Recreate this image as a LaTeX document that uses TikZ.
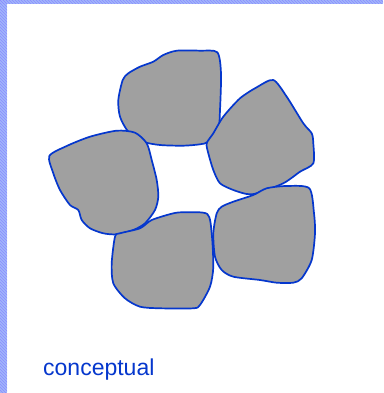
\documentclass[tikz,border=0pt]{standalone}
\usepackage{fontspec}
\setmainfont{Liberation Sans}
\usetikzlibrary{patterns}
\definecolor{rockblue}{RGB}{5,55,205}
\definecolor{rockgray}{RGB}{160,160,160}
\definecolor{edgeblue}{RGB}{160,182,250}
\begin{document}
\begin{tikzpicture}[x=1pt,y=-1pt,
  rock/.style={draw=rockblue,line width=1.7pt,fill=rockgray,line join=round,tension=0.45},
  lab/.style={font=\fontsize{23}{25}\selectfont,text=rockblue,anchor=base west,inner sep=0pt}]
\useasboundingbox (0,0) rectangle (383,393);
% frame
\fill[white] (0,0) rectangle (383,393);
\fill[edgeblue] (0,0) rectangle (383,4);
\fill[edgeblue] (0,0) rectangle (7,393);
\fill[pattern=north west lines,pattern color=blue!45] (0,0) rectangle (383,4);
\fill[pattern=north west lines,pattern color=blue!45] (0,0) rectangle (7,393);
% grains
\draw[rock] plot[smooth cycle] coordinates {(122.7,80) (118.3,100) (120,116.7) (128.3,131.7) (143.3,141.7) (160,145) (183.3,145.7) (200,144.3) (208.3,141.7) (218.3,128.3) (220,110) (221,73.3) (217.3,52.3) (200,50.7) (176.7,50.7) (163.3,55) (153.3,61.7) (140,66.7) (128.3,73.3)};
\draw[rock] plot[smooth cycle] coordinates {(273.3,80) (286.7,96.7) (303.3,123.3) (311.7,133.3) (313.3,143.3) (313.3,163.3) (300,171.7) (283.3,183.3) (256.7,193.3) (246.7,194) (233.3,190) (220,183.3) (213.3,170) (208.3,153.3) (206.7,143.3) (213.3,133.3) (223.3,116.7) (240,98.3) (256.7,87.3)};
\draw[rock] plot[smooth cycle] coordinates {(49.3,156) (66.7,146) (90,136.7) (116.7,130.7) (135,132.7) (146.7,143.3) (151.7,160) (156.7,180) (158.3,196.7) (155,210) (145,223.3) (133.3,230) (116.7,234.3) (103.3,233.3) (90,228.3) (81.7,220) (78.3,210) (70,205) (60,190) (53.3,173.3)};
\draw[rock] plot[smooth cycle] coordinates {(115,236.7) (111.7,263.3) (113.3,283.3) (125,298.3) (140,306.7) (160,308.3) (193.3,308.3) (200,305) (210,286.7) (213.3,266.7) (211.7,233.3) (207.3,214) (185,212.3) (173.3,213.3) (151.7,220) (140,228.3) (120,233.3)};
\draw[rock] plot[smooth cycle] coordinates {(216.7,213.3) (213.3,233.3) (215,256.7) (221.7,270) (233.3,276.7) (260,280) (276.7,282.7) (293.3,282.7) (301.7,278.3) (311.7,260) (315,233.3) (314,213.3) (309.3,188.3) (286.7,186) (266.7,188.3) (253.3,195) (233.3,201.7) (221.7,206.7)};
\node[lab] (caption) at (43,375) {conceptual};
\end{tikzpicture}
\end{document}
